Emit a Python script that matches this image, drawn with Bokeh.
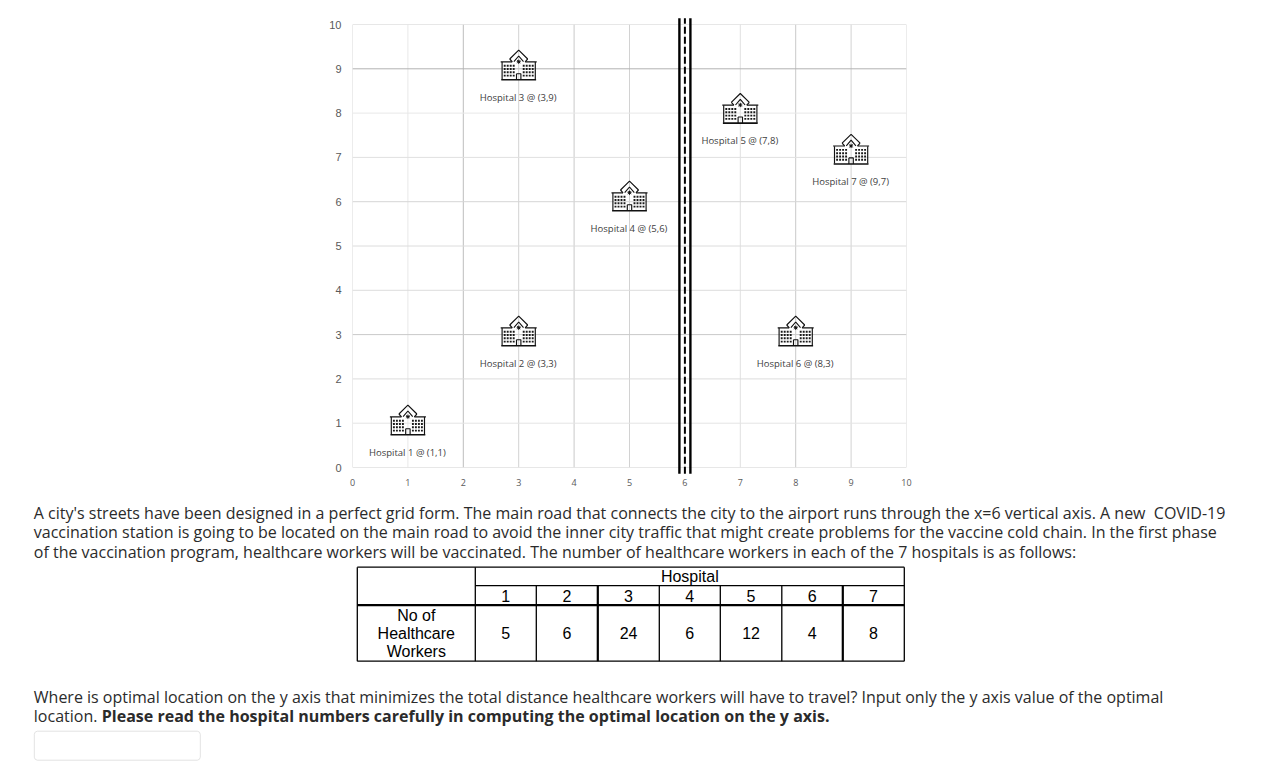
from bokeh.plotting import figure
from bokeh.models import FixedTicker, Range1d
from bokeh.embed import file_html
from bokeh.resources import INLINE

# ---------- data ----------
hospital_ids = [1, 2, 3, 4, 5, 6, 7]
hospital_x = [1, 3, 3, 5, 7, 8, 9]
hospital_y = [1, 3, 9, 6, 8, 3, 7]
worker_counts = [5, 6, 24, 6, 12, 4, 8]
x_ticks = [0, 1, 2, 3, 4, 5, 6, 7, 8, 9, 10]
y_ticks = [0, 1, 2, 3, 4, 5, 6, 7, 8, 9, 10]
road_x = 6
paragraph_lines = [
    "A city's streets have been designed in a perfect grid form. The main road that connects the city to the airport runs through the x=6 vertical axis. A new\u00a0 COVID-19",
    "vaccination station is going to be located on the main road to avoid the inner city traffic that might create problems for the vaccine cold chain. In the first phase",
    "of the vaccination program, healthcare workers will be vaccinated. The number of healthcare workers in each of the 7 hospitals is as follows:",
]
question_line = "Where is optimal location on the y axis that minimizes the total distance healthcare workers will have to travel? Input only the y axis value of the optimal"
question_tail = "location."
question_bold = "Please read the hospital numbers carefully in computing the optimal location on the y axis."
row_label_lines = ["No of", "Healthcare", "Workers"]
table_header = "Hospital"

# ---------- layout constants (pixels) ----------
FRAME_L, FRAME_R, FRAME_T, FRAME_B = 352, 906, 24, 467
FIG_W, FIG_H = 1257, 763
PX_X = (FRAME_R - FRAME_L) / 10
PX_Y = (FRAME_B - FRAME_T) / 10
APEX_NUDGE = [-18, -18.4, -18.6, -20.5, -19.6, -18.4, -23]
X_GRID_COL = ["#d9d9d9", "#e9e9e9", "#bdbdbd", "#d2d2d2", "#c9c9c9", "#d2d2d2", "#d9d9d9", "#e0e0e0", "#c9c9c9", "#d2d2d2", "#d9d9d9"]
Y_GRID_COL = ["#cfcfcf", "#e4e4e4", "#dcdcdc", "#c9c9c9", "#dcdcdc", "#dcdcdc", "#d6d6d6", "#e0e0e0", "#e8e8e8", "#b3b3b3", "#d0d0d0"]

p = figure(width=FIG_W, height=FIG_H, output_backend="svg", toolbar_location=None,
           x_range=Range1d(0, 10), y_range=Range1d(0, 10),
           min_border_left=FRAME_L, min_border_right=FIG_W - FRAME_R,
           min_border_top=FRAME_T, min_border_bottom=FIG_H - FRAME_B)
p.extra_x_ranges["page"] = Range1d(FRAME_L + 0.7, FRAME_R + 0.7)
p.extra_y_ranges["page"] = Range1d(FRAME_B + 0.8, FRAME_T + 0.8)
p.grid.visible = False
p.outline_line_color = None
p.xaxis.ticker = FixedTicker(ticks=x_ticks)
p.yaxis.ticker = FixedTicker(ticks=y_ticks)
for ax in (p.xaxis[0], p.yaxis[0]):
    ax.axis_line_color = None
    ax.major_tick_line_color = None
    ax.minor_tick_line_color = None
    ax.major_label_text_color = "#595959"
p.xaxis.major_label_text_font = "Open Sans"
p.xaxis.major_label_text_font_size = "9px"
p.xaxis.major_label_standoff = 5
p.yaxis.major_label_text_font = "Liberation Sans"
p.yaxis.major_label_text_font_size = "11px"
p.yaxis.major_label_standoff = 5

# grid
p.multi_line([[v, v] for v in x_ticks], [[0, 10] for _ in x_ticks], line_color=X_GRID_COL, line_width=1)
p.multi_line([[0, 10] for _ in y_ticks], [[v, v] for v in y_ticks], line_color=Y_GRID_COL, line_width=1)

# main road, extends a little outside the frame
road_ys = [-0.14, 10.14]
for off in (-5.5, 5.5):
    p.line([road_x + off / PX_X] * 2, road_ys, line_color="black", line_width=2.4, level="overlay")
p.line([road_x] * 2, road_ys, line_color="black", line_width=2, line_dash=[7, 3], level="overlay")

# hospital icon parts: (u, v) pixel offsets from the roof apex, v down
shapes_thin = [
    [(-18, 11.6), (-6.5, 11.6)],
    [(6.5, 11.6), (18, 11.6)],
    [(-4.8, 11.5), (0, 5.8), (4.8, 11.5)],
    [(-9, 8.8), (0, 0), (9, 8.8)],
    [(-9, 8.8), (-6.4, 11.6)],
    [(9, 8.8), (6.4, 11.6)],
    [(-16.6, 11.8), (-16.6, 29.2)],
    [(16.6, 11.8), (16.6, 29.2)],
    [(-2.2, 23.5), (2.2, 23.5), (2.2, 29.5)],
    [(-2.2, 23.5), (-2.2, 29.5)],
]
shapes_thick = [[(-17.4, 29.6), (17.4, 29.6)]]
star = [
    [(-2, 11.5), (2, 11.5)],
    [(0, 9.4), (0, 13.6)],
    [(-1.5, 10), (1.5, 13)],
    [(1.5, 10), (-1.5, 13)],
]
win_cols = [-14, -11, -8, -5, 5, 8, 11, 14]
win_rows = [15.5, 18.8, 22.1, 25.4]


def to_data(hx, hy, nudge, path):
    xs = [hx + u / PX_X for u, v in path]
    ys = [hy - (nudge + v) / PX_Y for u, v in path]
    return xs, ys


for hx, hy, nudge in zip(hospital_x, hospital_y, APEX_NUDGE):
    for group, width in ((shapes_thin, 1.15), (shapes_thick, 1.6), (star, 1.0)):
        xs, ys = [], []
        for path in group:
            a, b = to_data(hx, hy, nudge, path)
            xs.append(a)
            ys.append(b)
        p.multi_line(xs, ys, line_color="#111111", line_width=width)
    wx, wy = [], []
    for u in win_cols:
        for v in win_rows:
            a, b = to_data(hx, hy, nudge, [(u, v)])
            wx.append(a[0])
            wy.append(b[0])
    p.rect(wx, wy, width=1.9 / PX_X, height=1.9 / PX_Y, fill_color="#1a1a1a", line_color=None)

labels = [f"Hospital {i} @ ({x},{y})" for i, x, y in zip(hospital_ids, hospital_x, hospital_y)]
label_y = [y - (n + 47.2) / PX_Y for y, n in zip(hospital_y, APEX_NUDGE)]
p.text(hospital_x, label_y, text=labels, text_font={"value": "Open Sans"}, text_font_size={"value": "9.5px"},
       text_color="#404040", text_align="center", text_baseline="middle", x_offset=-0.5)

# ---------- lower part: drawn in page-pixel coordinates through the "page" ranges ----------
PAGE = dict(x_range_name="page", y_range_name="page", level="overlay")
BODY = dict(text_font={"value": "Open Sans"}, text_font_size={"value": "16px"}, text_color="#2b2b2b",
            text_baseline="middle", text_align="left", **PAGE)
p.text([34, 34, 34], [513, 532.5, 552], text=paragraph_lines, **BODY)
p.text([34], [697], text=[question_line], **BODY)
p.text([34], [716], text=[question_tail], **BODY)
p.text([102], [716], text=[question_bold], text_font_style="bold", **BODY)

col_edges = [357.5, 475.5, 536.5, 598, 659.5, 720.5, 782, 843, 904.5]
row_edges = [567.5, 586, 605.5, 661.5]
col_mid = [(a + b) / 2 for a, b in zip(col_edges[1:-1], col_edges[2:])]
for e, w in zip(col_edges, [1.3, 1.3, 1.3, 2.2, 1.3, 1.3, 1.3, 2.2, 1.3]):
    y0 = row_edges[0] if e in (col_edges[0], col_edges[1], col_edges[-1]) else row_edges[1]
    p.line([e, e], [y0, row_edges[-1]], line_color="black", line_width=w, **PAGE)
p.line([col_edges[0], col_edges[-1]], [row_edges[0]] * 2, line_color="black", line_width=1.3, **PAGE)
p.line([col_edges[1], col_edges[-1]], [row_edges[1]] * 2, line_color="black", line_width=1.3, **PAGE)
p.line([col_edges[0], col_edges[-1]], [row_edges[2]] * 2, line_color="black", line_width=2.2, **PAGE)
p.line([col_edges[0], col_edges[-1]], [row_edges[3]] * 2, line_color="black", line_width=1.3, **PAGE)

CELL = dict(text_font={"value": "Liberation Sans"}, text_font_size={"value": "16px"}, text_color="black",
            text_align="center", text_baseline="middle", **PAGE)
p.text([690], [576.5], text=[table_header], **CELL)
p.text(col_mid, [596] * 7, text=[str(i) for i in hospital_ids], **CELL)
p.text(col_mid, [633.5] * 7, text=[str(v) for v in worker_counts], **CELL)
p.text([416.5] * 3, [615.5, 633.5, 651.5], text=row_label_lines, **CELL)

# empty answer box with rounded corners
R = 3
k = 0.3 * R
L_, R_, T_, B_ = 34.5, 200.5, 731.5, 760.5
box_x = [L_ + R, R_ - R, R_ - k, R_, R_, R_ - k, R_ - R, L_ + R, L_ + k, L_, L_, L_ + k, L_ + R]
box_y = [T_, T_, T_ + k, T_ + R, B_ - R, B_ - k, B_, B_, B_ - k, B_ - R, T_ + R, T_ + k, T_]
p.line(box_x, box_y, line_color="#e3e3e3", line_width=1, **PAGE)

open("out.html", "w").write(file_html(p, INLINE))
